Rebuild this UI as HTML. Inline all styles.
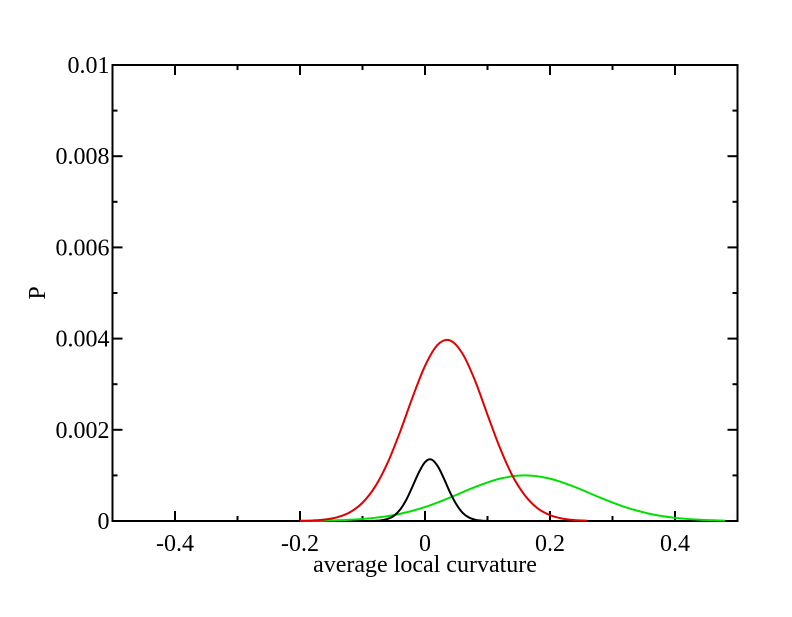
<!DOCTYPE html>
<html><head><meta charset="utf-8"><style>
body{margin:0;background:#fff}
svg text{font-family:"Liberation Serif",serif;font-size:24px;fill:#000}
</style></head><body>
<svg width="792" height="612">
<g id="axes"></g>
<g id="series"></g>
</svg>
<script>
const xTicks=[-0.4,-0.2,0,0.2,0.4];
const xTickLabels=["-0.4","-0.2","0","0.2","0.4"];
const yTicks=[0,0.002,0.004,0.006,0.008,0.01];
const yTickLabels=["0","0.002","0.004","0.006","0.008","0.01"];
const redX=[-0.2,-0.18,-0.16,-0.14,-0.12,-0.1,-0.08,-0.06,-0.04,-0.02,0,0.02,0.04,0.06,0.08,0.1,0.12,0.14,0.16,0.18,0.2,0.22,0.24,0.26];
const redY=[0.0000038,0.0000118,0.000033,0.000084,0.000192,0.0004,0.00075,0.00127,0.00195,0.00271,0.0034,0.00386,0.00396,0.00367,0.00308,0.00233,0.0016,0.00099,0.00056,0.00028,0.000129,0.000053,0.00002,0.0000067];
const blackX=[-0.08,-0.07,-0.06,-0.05,-0.04,-0.03,-0.02,-0.01,0,0.01,0.02,0.03,0.04,0.05,0.06,0.07,0.08,0.09,0.1];
const blackY=[0.0000044,0.000015,0.000044,0.000112,0.000246,0.000464,0.000756,0.00106,0.00129,0.00135,0.00121,0.00094,0.00063,0.00037,0.000183,0.0000786,0.000029,0.0000093,0.0000026];
const greenX=[-0.2,-0.16,-0.12,-0.08,-0.04,0,0.04,0.08,0.12,0.16,0.2,0.24,0.28,0.32,0.36,0.4,0.44,0.48];
const greenY=[0.0000025,0.0000088,0.0000267,0.00007,0.000157,0.000306,0.000514,0.000744,0.000929,0.001,0.000929,0.000744,0.000514,0.000306,0.000157,0.00007,0.0000267,0.0000088];

const L=112.5,R=737.5,T=65,B=521;
const sx=v=>L+(v+0.5)/1.0*(R-L);
const sy=v=>B-v/0.01*(B-T);
const NS="http://www.w3.org/2000/svg";
const ax=document.getElementById('axes'),se=document.getElementById('series');
function mk(tag,attrs,parent){const e=document.createElementNS(NS,tag);for(const k in attrs)e.setAttribute(k,attrs[k]);parent.appendChild(e);return e;}
let frame=mk('rect',{x:L,y:T,width:R-L,height:B-T,fill:'none',stroke:'#000','stroke-width':2},ax);


for(let i=0;i<=10;i++){const v=-0.5+i*0.1;const x=sx(v);const len=(Math.round(v*10)%2===0)?10:5;
 let t1=mk('line',{x1:x,x2:x,y1:B,y2:B-len,stroke:'#000','stroke-width':2},ax);
 
 
 let t2=mk('line',{x1:x,x2:x,y1:T,y2:T+len,stroke:'#000','stroke-width':2},ax);
 
 }
for(let i=0;i<=10;i++){const v=i*0.001;const y=sy(v);const len=i%2===0?10:5;
 let t1=mk('line',{x1:L,x2:L+len,y1:y,y2:y,stroke:'#000','stroke-width':2},ax);
 
 
 let t2=mk('line',{x1:R,x2:R-len,y1:y,y2:y,stroke:'#000','stroke-width':2},ax);
 
 }
xTicks.forEach((v,i)=>{let t=mk('text',{x:sx(v),y:B+30,'text-anchor':'middle'},ax);t.textContent=xTickLabels[i];
 
 });
yTicks.forEach((v,i)=>{let t=mk('text',{x:L-3,y:sy(v)+8,'text-anchor':'end'},ax);t.textContent=yTickLabels[i];
 
 });
let xt=mk('text',{x:425,y:572,'text-anchor':'middle'},ax);xt.textContent='average local curvature';


let yt=mk('text',{x:0,y:0,'text-anchor':'middle',transform:'translate(45,293) rotate(-90)'},ax);yt.textContent='P';


function path(xs,ys){const p=xs.map((x,i)=>[sx(x),sy(ys[i])]);let d='M'+p[0][0]+','+p[0][1];
 for(let i=0;i<p.length-1;i++){const p0=p[Math.max(0,i-1)],p1=p[i],p2=p[i+1],p3=p[Math.min(p.length-1,i+2)];
 d+=' C'+(p1[0]+(p2[0]-p0[0])/6)+','+(p1[1]+(p2[1]-p0[1])/6)+' '+(p2[0]-(p3[0]-p1[0])/6)+','+(p2[1]-(p3[1]-p1[1])/6)+' '+p2[0]+','+p2[1];}
 return d;}
let g=mk('path',{d:path(greenX,greenY),fill:'none',stroke:'#00e000','stroke-width':2},se);


let r=mk('path',{d:path(redX,redY),fill:'none',stroke:'#e00000','stroke-width':2},se);


let b=mk('path',{d:path(blackX,blackY),fill:'none',stroke:'#000','stroke-width':2},se);


</script>
</body></html>
